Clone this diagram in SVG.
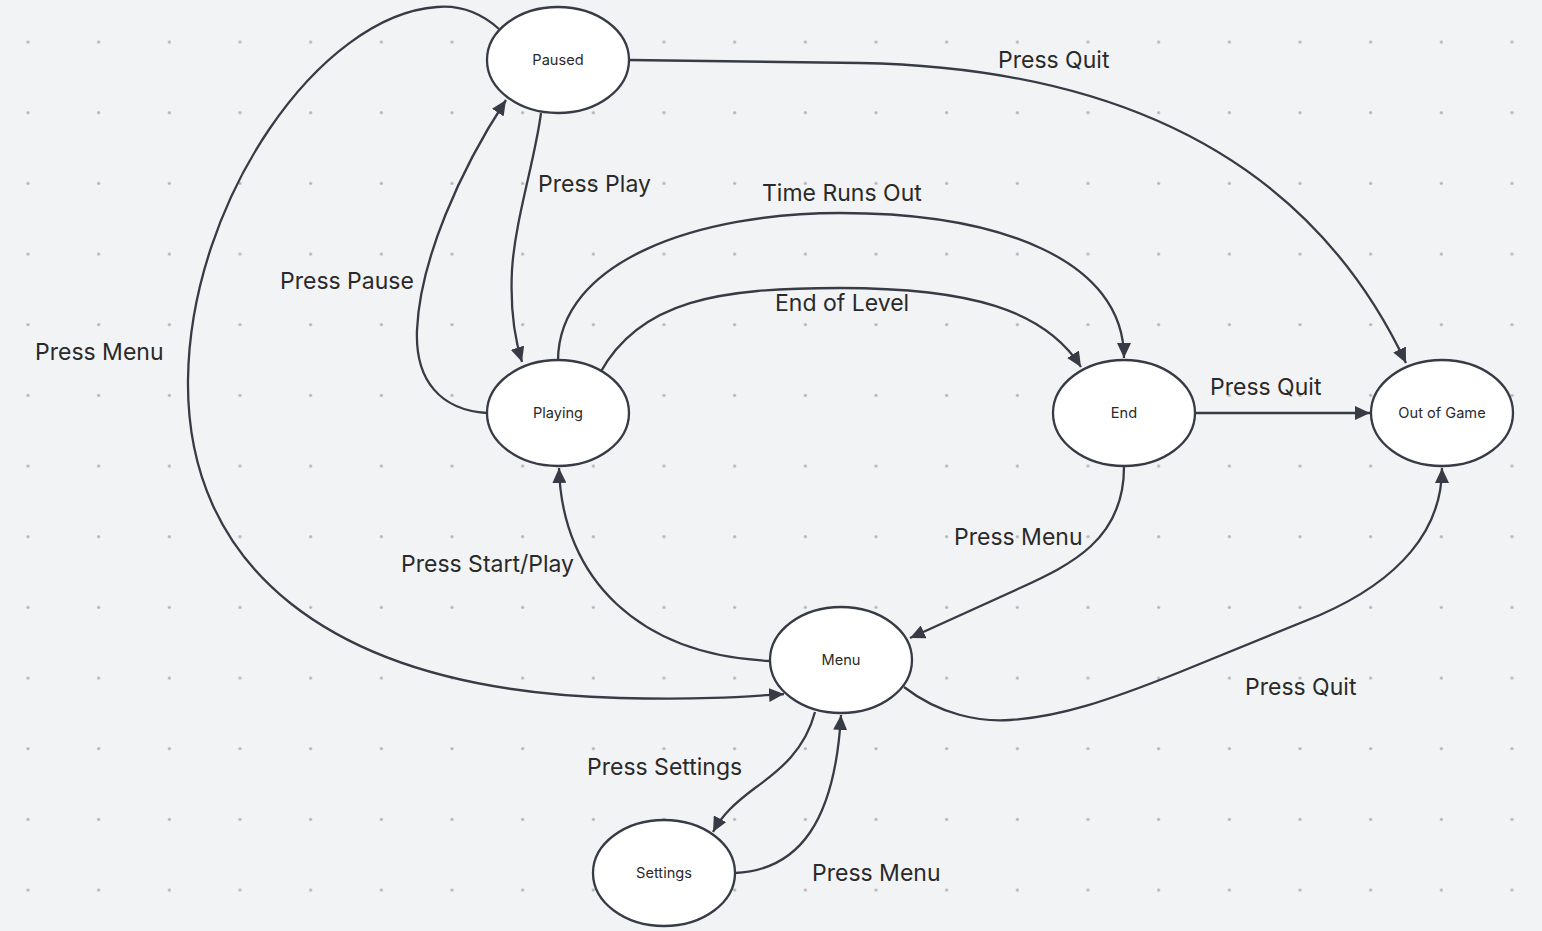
<svg xmlns="http://www.w3.org/2000/svg" width="1542" height="931" viewBox="0 0 1542 931">
<style>
.node ellipse{fill:#ffffff;stroke:#363b45;stroke-width:2.3}
.node text{font-family:Inter,"Liberation Sans",sans-serif;font-size:14.6px;fill:#2a2a2a;text-anchor:middle}
.edge{fill:none;stroke:#363b45;stroke-width:2.3;marker-end:url(#arrow)}
.lbl{font-family:Inter,"Liberation Sans",sans-serif;font-size:23px;fill:#2a2a2a}
</style>
<defs>
<pattern id="dots" patternUnits="userSpaceOnUse" x="-7.33" y="6.67" width="70.667" height="70.667">
<circle cx="35.33" cy="35.33" r="1.6" fill="#b3b4b8"/>
</pattern>
<marker id="arrow" markerUnits="userSpaceOnUse" markerWidth="16" markerHeight="14" refX="15" refY="7" orient="auto">
<path d="M0,0 L15,7 L0,14 z" fill="#363b45"/>
</marker>
</defs>
<rect width="1542" height="931" fill="#f2f3f5"/>
<rect width="1542" height="931" fill="url(#dots)"/>
<g id="connectors">
<path class="edge" d="M629,60 L860,63 C1120,68 1310,160 1406,363"/>
<path class="edge" d="M541,113 C535,160 515,220 512,270 C510,310 515,340 522,362"/>
<path class="edge" d="M487,413 C440,410 415,380 417,330 C420,260 460,170 506,100"/>
<path class="edge" d="M499,29 C480,12 460,5 437,7 C320,15 190,200 188,380 C186,560 320,690 620,698 C700,700 740,697 784,694"/>
<path class="edge" d="M558,361 C558,260 700,213 840,213 C1000,213 1124,260 1124,358"/>
<path class="edge" d="M600,373 C640,300 720,288 840,288 C970,288 1045,310 1081,367"/>
<path class="edge" d="M1195,413 L1370,413"/>
<path class="edge" d="M1124,467 C1124,540 1070,565 1020,588 L910,638"/>
<path class="edge" d="M904,687 C940,715 980,722 1010,720 C1060,717 1110,700 1180,672 L1320,615 C1400,580 1442,530 1442,468"/>
<path class="edge" d="M770,661 C640,655 562,580 559,468"/>
<path class="edge" d="M815,712 C805,750 780,770 755,788 C735,803 722,815 713,832"/>
<path class="edge" d="M735,873 C800,870 835,820 841,715"/>
</g>
<g id="labels">
<text class="lbl" x="998" y="68">Press Quit</text>
<text class="lbl" x="538" y="192">Press Play</text>
<text class="lbl" x="762" y="201">Time Runs Out</text>
<text class="lbl" x="280" y="289">Press Pause</text>
<text class="lbl" x="775" y="311">End of Level</text>
<text class="lbl" x="35" y="360">Press Menu</text>
<text class="lbl" x="1210" y="395">Press Quit</text>
<text class="lbl" x="954" y="545">Press Menu</text>
<text class="lbl" x="401" y="572">Press Start/Play</text>
<text class="lbl" x="1245" y="695">Press Quit</text>
<text class="lbl" x="587" y="775">Press Settings</text>
<text class="lbl" x="812" y="881">Press Menu</text>
</g>
<g id="node-paused" class="node"><ellipse cx="558" cy="60" rx="71" ry="53"/><text x="558" y="65">Paused</text></g>
<g id="node-playing" class="node"><ellipse cx="558" cy="413" rx="71" ry="53"/><text x="558" y="418">Playing</text></g>
<g id="node-end" class="node"><ellipse cx="1124" cy="413" rx="71" ry="53"/><text x="1124" y="418">End</text></g>
<g id="node-outofgame" class="node"><ellipse cx="1442" cy="413" rx="71" ry="53"/><text x="1442" y="418">Out of Game</text></g>
<g id="node-menu" class="node"><ellipse cx="841" cy="660" rx="71" ry="53"/><text x="841" y="665">Menu</text></g>
<g id="node-settings" class="node"><ellipse cx="664" cy="873" rx="71" ry="53"/><text x="664" y="878">Settings</text></g>
</svg>
